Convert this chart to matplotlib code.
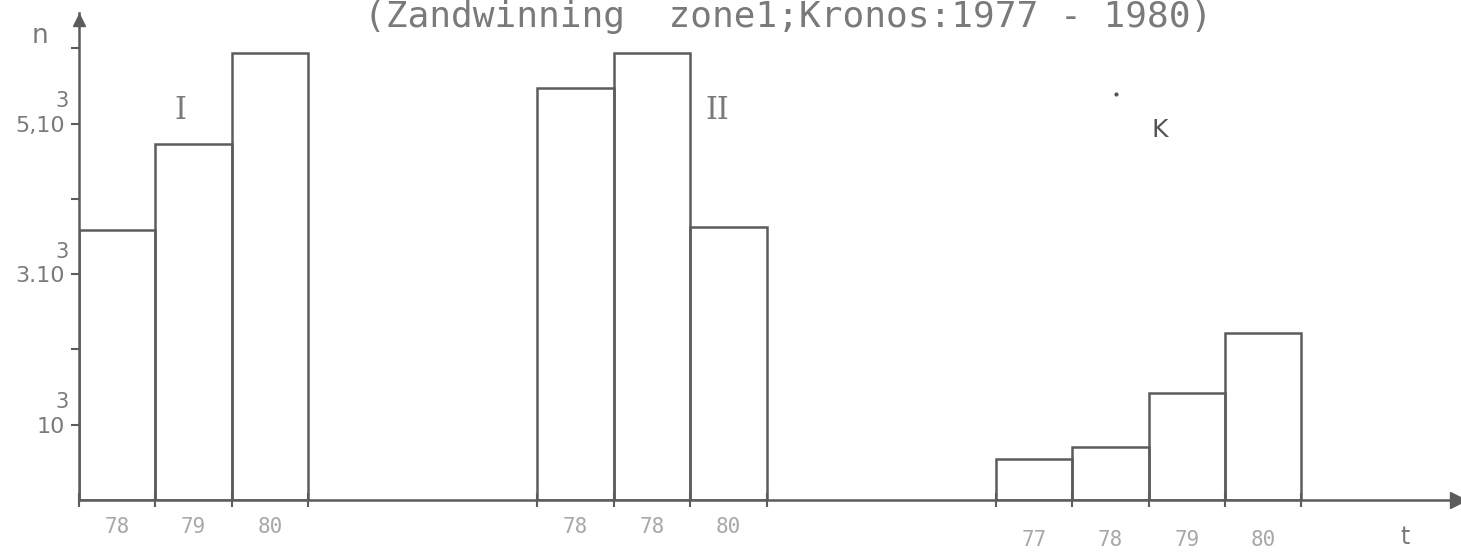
import matplotlib
matplotlib.use("Agg")
import matplotlib.pyplot as plt

# data (n per year)
years_I = ["78", "79", "80"]
n_I = [3590, 4730, 5940]
years_II = ["78", "78", "80"]
n_II = [5480, 5940, 3630]
years_K = ["77", "78", "79", "80"]
n_K = [550, 710, 1425, 2220]

# left edges of the groups along the time axis (bar widths = 1)
start_I, start_II, start_K = 0, 6, 12

yticks = [1000, 2000, 3000, 4000, 5000, 6000]
ytick_labels = ["10", "", "3.10", "", "5,10", ""]
exponent = "3"

line_c = "#5c5c5c"
text_c = "#7a7a7a"
light_c = "#a8a8a8"

fig = plt.figure(figsize=(14.61, 5.53), dpi=100)
ax = fig.add_axes([79 / 1461, 53 / 553, (1458 - 79) / 1461, 487 / 553])

groups = [(start_I, n_I, years_I, -0.055),
          (start_II, n_II, years_II, -0.055),
          (start_K, n_K, years_K, -0.083)]

edges = []
for start, vals, labels, off in groups:
    xs = [start + i for i in range(len(vals))]
    ax.bar(xs, vals, width=1, align="edge", fill=False,
           edgecolor=line_c, linewidth=1.8)
    edges += xs + [xs[-1] + 1]
    for x, lab in zip(xs, labels):
        ax.text(x + 0.5, off, lab, transform=ax.get_xaxis_transform(),
                ha="center", va="center", fontsize=15, color=light_c,
                family="DejaVu Sans Mono")

ax.set_xlim(0, 18.05)
ax.set_ylim(0, 6470)

for s in ["top", "right"]:
    ax.spines[s].set_visible(False)
for s in ["left", "bottom"]:
    ax.spines[s].set_color(line_c)
    ax.spines[s].set_linewidth(1.8)

ax.set_xticks(edges)
ax.set_xticklabels([])
ax.tick_params(axis="x", direction="inout", length=10, width=1.5, color=line_c)
ax.set_yticks(yticks)
ax.set_yticklabels(ytick_labels)
ax.tick_params(axis="y", direction="out", length=6, width=1.5, color=line_c,
               labelsize=16, labelcolor=text_c, pad=4)
# the "3" written above each label (10^3)
for v, lab in zip(yticks, ytick_labels):
    if lab:
        ax.text(-0.012, v + 300, exponent, transform=ax.get_yaxis_transform(),
                fontsize=15, color=text_c, ha="center", va="center")

# arrow heads on the axes
ax.plot(1, 0, ">", color=line_c, markersize=11, transform=ax.transAxes,
        clip_on=False)
ax.plot(0, 0.985, "^", color=line_c, markersize=9, transform=ax.transAxes,
        clip_on=False)

ax.text(1.32, 5180, "I", fontsize=22, color=text_c, family="DejaVu Serif",
        ha="center", va="center")
ax.text(8.35, 5180, "II", fontsize=22, color=text_c, family="DejaVu Serif",
        ha="center", va="center")
ax.text(14.15, 4910, "K", fontsize=18, color="#555555", ha="center",
        va="center")
ax.plot(13.57, 5390, ".", color="#555555", markersize=4)
ax.text(17.36, -0.075, "t", transform=ax.get_xaxis_transform(), fontsize=17,
        color=text_c, ha="center", va="center")

fig.text(40 / 1461, 1 - 36 / 553, "n", fontsize=19, color=text_c,
         ha="center", va="center")
fig.text(788 / 1461, 1 - 27 / 553, "(Zandwinning  zone1;Kronos:1977 - 1980)",
         fontsize=26, color=text_c, family="DejaVu Sans Mono",
         ha="center", va="baseline")

plt.savefig("out.png", dpi=100)
